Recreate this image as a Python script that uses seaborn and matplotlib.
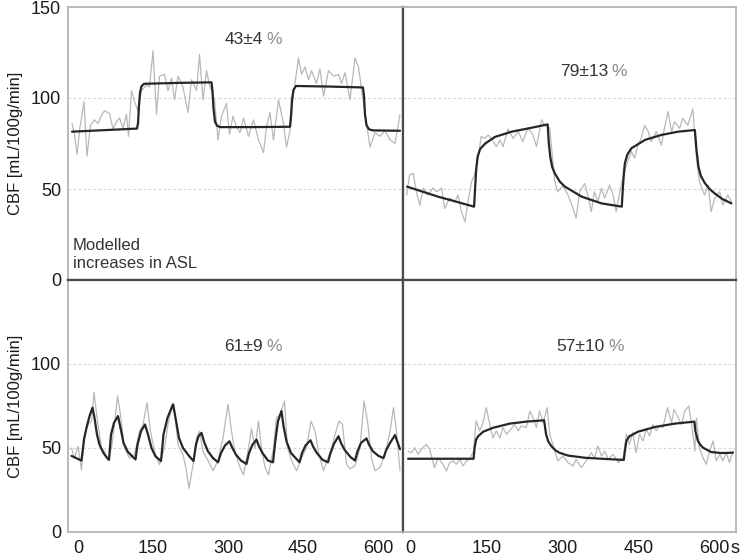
import matplotlib
matplotlib.use("Agg")
import matplotlib.pyplot as plt
import seaborn as sns

# ---------------- data ----------------
# Panel A (top-left): measured (grey) and modelled (black)
a_t = [-12, -7, -2, 4, 12, 18, 25, 33, 40, 46, 53, 63, 70, 77, 83, 90, 97, 101, 107, 113,
       120, 127, 137, 143, 150, 157, 163, 173, 180, 187, 193, 200, 210, 220, 227, 237, 243,
       250, 257, 263, 273, 280, 287, 297, 303, 310, 317, 324, 331, 341, 351, 361, 371, 377,
       384, 391, 401, 411, 417, 424, 431, 441, 447, 454, 461, 467, 477, 484, 491, 501, 511,
       521, 527, 534, 544, 554, 561, 567, 577, 584, 594, 604, 614, 624, 634, 644]
a_cbf = [86, 80, 69, 84, 98, 68, 85, 88, 86, 90, 93, 91.5, 83, 87, 89, 83.5, 91, 79, 104, 98,
         93, 104, 107, 106, 126, 91, 112, 113, 104, 111, 99, 112, 106, 92, 110, 104, 124,
         99, 115, 107, 99, 77, 90, 97, 80, 90, 84, 81, 89, 79, 88, 77, 70, 84,
         92, 77, 99, 86, 73, 82, 102, 122, 113, 117, 110, 115, 108, 116, 101, 115, 112,
         113, 108, 114, 99, 122, 117, 105, 86, 73, 81, 79, 82, 77, 75, 91]
a_mt = [-12, 50, 118, 120, 122, 124, 127, 132, 200, 267, 269, 271, 274, 278, 284, 350, 424,
        426, 428, 431, 436, 500, 570, 572, 574, 577, 582, 590, 644]
a_mcbf = [81.5, 82.3, 83.2, 86, 96, 103, 106.5, 107.8, 108.3, 108.6, 104, 94, 87, 84.8, 84,
          84, 84.2, 90, 99, 104.5, 106.6, 106.3, 105.8, 101, 91, 85, 82.8, 82.2, 82]

# Panel B (top-right)
b_t = [-7, -1, 6, 12.5, 19, 26, 35, 45, 52, 62, 68, 78, 88, 94.5, 101, 108, 114, 121, 127,
       134, 140, 147, 154, 160, 170, 177, 183, 193, 203, 213, 222, 232, 242, 249, 259, 265,
       275, 285, 291, 301, 311, 321, 327, 334, 344, 350, 357, 363, 370, 377, 383, 393, 400,
       406, 413, 419, 426, 436, 442, 449, 455, 462, 469, 475, 485, 495, 501, 508, 515, 521,
       531, 537, 547, 557, 564, 570, 580, 587, 593, 600, 610, 616, 626, 633]
b_cbf = [46.7, 57.7, 58.6, 48.5, 41.2, 50.5, 46.7, 50.5, 48.5, 50.5, 39.3, 45, 43, 46.7, 37.6,
         32, 43, 54, 57.7, 67, 78.8, 77.8, 79.7, 77.8, 73.3, 77, 73.3, 83, 77.8, 81.6, 76,
         83.5, 79.7, 73.3, 88, 85, 83.5, 54, 48.5, 52, 46.7, 39.3, 34, 48.5, 53, 46.7, 37.6,
         48.5, 43, 50.5, 45, 52, 46.7, 37.6, 48.5, 56, 63, 70.7, 67, 74, 77.8, 85, 81.6, 76,
         81.6, 74, 83.3, 92.5, 81.6, 87, 83.3, 88.8, 85, 94, 67, 54, 46.7, 52, 37.6, 45,
         48.5, 41.2, 46.7, 43]
b_mt = [-6, 55, 126, 128, 130, 133, 138, 148, 167, 200, 233, 271, 273, 276, 280, 285, 295,
        305, 338, 377, 417, 419, 421, 423, 428, 436, 463, 495, 528, 561, 564, 568, 573, 581,
        590, 600, 615, 633]
b_mcbf = [51.3, 45.8, 40.3, 50, 60, 67.8, 72, 75, 78.6, 81.5, 83.3, 85.5, 76, 67.8, 62, 58.6,
          54, 51.3, 45.8, 42.1, 40.3, 50, 58, 64, 69, 72.4, 77, 79.7, 81.5, 82.4, 72, 62.3,
          57, 53.1, 50, 47.6, 44.5, 42.1]

# Panel C (bottom-left)
c_t = [-13, -7, 0, 7, 13, 20, 27, 32, 39, 47, 53, 60, 67, 73, 79, 85, 93, 103, 113, 123, 130,
       138, 145, 153, 163, 173, 180, 187, 192, 200, 210, 216, 222, 230, 237, 243, 250, 260,
       270, 280, 290, 300, 307, 314, 324, 331, 341, 347, 354, 361, 367, 374, 381, 391, 397,
       404, 413, 419, 427, 437, 447, 457, 466, 474, 482, 491, 497, 507, 514, 522, 529, 537,
       544, 554, 564, 572, 579, 587, 594, 604, 614, 624, 631, 637, 644]
c_cbf = [50, 44, 51, 37, 58, 64, 66, 83, 66, 50, 48, 42.5, 50, 64, 81, 70, 50, 44, 46, 60, 64,
         77, 60, 48, 40, 50, 64, 74, 76, 52, 46, 38, 26, 40, 56, 60, 48, 42.5,
         36.5, 42.5, 56, 76, 60, 47, 38.5, 34, 50, 61.5, 50, 66, 50, 38.5, 34, 50, 68,
         70, 78, 50, 42.5, 36.5, 44, 50, 66, 60, 46, 36.5, 41.5, 50, 58, 66, 64, 40.5,
         37.5, 39.5, 50, 78, 66, 44, 36.5, 38.5, 46, 60, 74, 60, 36.5]
c_mt = [-13, 7, 12, 17, 23, 29, 33, 38, 43, 50, 57, 62, 66, 72, 80, 85, 91, 100, 110, 115,
        119, 126, 134, 140, 147, 155, 166, 171, 179, 190, 195, 202, 210, 222, 231, 236, 241,
        247, 253, 260, 270, 280, 286, 294, 303, 308, 316, 326, 337, 342, 349, 357, 362, 369,
        380, 390, 395, 400, 407, 411, 417, 426, 443, 448, 455, 465, 470, 477, 489, 500, 505,
        512, 521, 526, 533, 545, 554, 559, 566, 577, 582, 590, 601, 611, 616, 624, 634, 639,
        644]
c_mcbf = [45.3, 42.5, 55, 62, 69, 74, 68, 58, 52, 47.5, 44.5, 43, 58, 65, 69, 62, 53, 47.6,
          44.6, 43.2, 52, 60, 64, 58, 50, 45, 42.3, 58, 68, 76, 68, 56, 50, 45.3, 42.2, 52,
          57, 59, 53, 48, 44, 41.5, 47, 51.5, 54, 50.5, 46, 42.5, 40.5, 47, 52, 55, 51, 47,
          42.5, 41.5, 55, 66, 72, 63, 54, 47, 41.5, 47, 51.5, 54.6, 51, 47.3, 43, 41.5, 47,
          52.5, 57, 53, 49, 44.6, 42.5, 48, 53, 55.7, 52, 48, 45.3, 44, 48.5, 53, 57.7,
          53.5, 49.3]

# Panel D (bottom-right)
d_t = [-4, 2.6, 9, 15.7, 22, 32, 38.7, 48, 55, 65, 71.5, 78, 85, 91, 98, 104, 111, 117, 125,
       130, 137, 143.7, 150, 157, 163, 170, 177, 183, 190, 196, 206, 213, 219, 229, 236, 242,
       249, 255, 262, 270, 275, 285, 291, 301, 311, 321, 327, 337, 347, 357, 363.5, 370, 377,
       383.5, 390, 400, 410, 420, 426, 432, 439, 445, 452, 459, 465, 472, 478, 485, 491.5,
       498, 507, 515, 520, 528, 534.5, 541, 549, 555.5, 561, 564, 570, 577, 583.5, 590, 597,
       603, 610, 616, 623, 629, 636]
d_cbf = [48.2, 47.2, 50.2, 46.2, 49.2, 52.2, 49.2, 38.3, 44.2, 40.3, 36.3, 41.3, 42.3, 40.3,
         43.3, 39.3, 42.3, 43.3, 48.2, 66.2, 60.2, 65, 74, 64, 56, 60.2, 56, 62.2, 58.2, 60.2,
         64, 60.2, 63.2, 62.2, 72, 68, 62.2, 72, 65, 74, 58.2, 48.2, 42.3, 45.2, 41.3, 39.3,
         43.3, 38.3, 42.3, 47.2, 44.2, 51.2, 45.2, 48.2, 43.3, 46.2, 41.3, 44.2, 58.2, 52.2,
         59.2, 47.2, 58.2, 54.2, 61.2, 57.2, 64, 60.2, 63.2, 62.2, 74, 65, 73, 68, 64, 72, 75,
         62.2, 48.2, 68, 50.2, 44.2, 40.3, 48.2, 54.2, 42.3, 46.2, 42.3, 47.2, 41.3, 48.2]
d_mt = [-4, 125, 127, 130, 134, 144, 163, 196, 229, 264, 266, 268, 272, 278, 286, 294, 311,
        344, 377, 421, 423, 426, 432, 449, 482, 521, 560, 562, 567, 572, 577, 593, 613, 636]
d_mcbf = [43.6, 43.6, 50, 55, 57, 59.7, 62, 64.5, 65.7, 66.5, 62, 58, 54, 51.2, 48.7, 47.2,
          45.5, 44.2, 43.6, 42.9, 48, 54.2, 57, 59.7, 62.5, 64.5, 65.7, 60, 54.2, 51.8, 50.2,
          47.6, 47, 47.2]

labels_num = ["43±4", "79±13", "61±9", "57±10"]
x_ticks = [0, 150, 300, 450, 600]
y_label = "CBF [mL/100g/min]"

# ---------------- figure ----------------
sns.set_theme(style="white")
plt.rcParams["font.family"] = ["Liberation Sans", "DejaVu Sans"]

fig = plt.figure(figsize=(7.42, 5.59), dpi=100)
W, H = 742, 559


def fx(px):
    return px / W


def fy(py):
    return 1 - py / H


colL, colM, colR = 68, 403, 736
rowT, rowM, rowB = 7, 280, 532
axA = fig.add_axes([fx(colL), fy(rowM), fx(colM) - fx(colL), fy(rowT) - fy(rowM)])
axB = fig.add_axes([fx(colM), fy(rowM), fx(colR) - fx(colM), fy(rowT) - fy(rowM)])
axC = fig.add_axes([fx(colL), fy(rowB), fx(colM) - fx(colL), fy(rowM) - fy(rowB)])
axD = fig.add_axes([fx(colM), fy(rowB), fx(colR) - fx(colM), fy(rowM) - fy(rowB)])

panels = [
    (axA, a_t, a_cbf, a_mt, a_mcbf, (-20, 650), (370, 132), "left", "top"),
    (axB, b_t, b_cbf, b_mt, b_mcbf, (-14, 642), (390, 114.5), "right", "top"),
    (axC, c_t, c_cbf, c_mt, c_mcbf, (-20, 650), (370, 110.7), "left", "bottom"),
    (axD, d_t, d_cbf, d_mt, d_mcbf, (-14, 642), (384, 110.7), "right", "bottom"),
]

outer = "#b4b4b4"
inner = "#4a4a4a"
FS = 13
for i, (ax, t, v, mt, mv, xl, tpos, side, row) in enumerate(panels):
    for yl in (50, 100):
        ax.axhline(yl, color="#d6d6d6", lw=0.8, ls=(0, (2.5, 2)), zorder=1)
    sns.lineplot(x=t, y=v, ax=ax, color="#b8b8b8", lw=0.9, estimator=None, sort=False, zorder=2)
    sns.lineplot(x=mt, y=mv, ax=ax, color="#262626", lw=1.6, estimator=None, sort=False, zorder=3)
    ax.set_xlim(*xl)
    ax.set_ylim(0, 150)
    ax.set_xlabel("")
    ax.set_ylabel("")
    for s in ax.spines.values():
        s.set_color(outer)
        s.set_linewidth(1.3)
    if side == "left":
        ax.spines["right"].set_color(inner)
        ax.spines["right"].set_linewidth(1.6)
    else:
        ax.spines["left"].set_color(inner)
        ax.spines["left"].set_linewidth(1.6)
    if row == "top":
        ax.spines["bottom"].set_color(inner)
        ax.spines["bottom"].set_linewidth(1.6)
    else:
        ax.spines["top"].set_color(inner)
        ax.spines["top"].set_linewidth(1.6)
    ax.tick_params(length=0, labelsize=FS, colors="#1a1a1a", pad=5)
    # annotation
    ax.text(tpos[0], tpos[1], labels_num[i], ha="right", va="center", fontsize=12.5, color="#333333")
    ax.text(tpos[0] + 6, tpos[1], "%", ha="left", va="center", fontsize=12.5, color="#8a8a8a")

    if side == "left":
        ax.set_yticks([0, 50, 100, 150] if row == "top" else [0, 50, 100])
        ax.set_ylabel(y_label, fontsize=12, color="#1a1a1a")
    else:
        ax.set_yticks([0, 50, 100])
        ax.set_yticklabels([])
    ax.set_xticks(x_ticks)
    if row == "top":
        ax.set_xticklabels([])
    else:
        ax.set_xticklabels([str(x) for x in x_ticks])
        ax.tick_params(axis="x", pad=6)

axC.yaxis.set_label_coords(-0.135, 0.5)
axA.yaxis.set_label_coords(-0.135, 0.5)

axA.text(-10, 14, "Modelled\nincreases in ASL", ha="left", va="center", fontsize=12,
         color="#333333", linespacing=1.3)

axD.annotate("s", xy=(600, 0), xycoords=("data", "axes fraction"), xytext=(11.5, -5.5),
             textcoords="offset points", ha="left", va="top", fontsize=FS, color="#1a1a1a")

fig.savefig("out.png", dpi=100)
